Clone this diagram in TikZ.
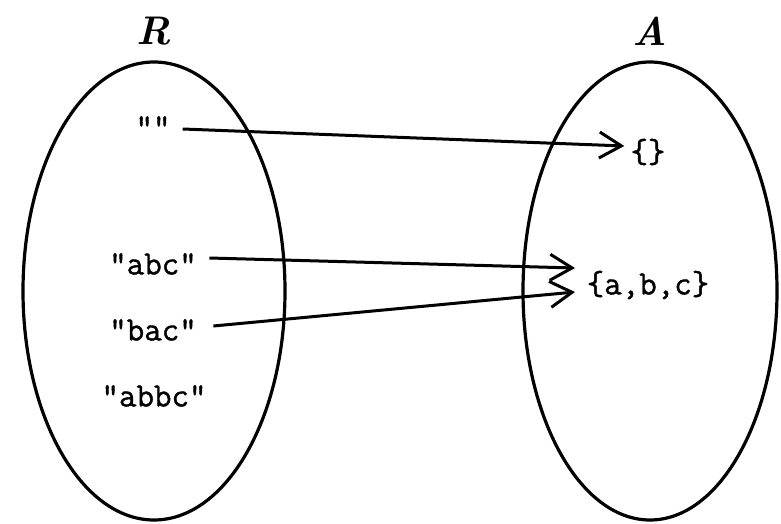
\documentclass[tikz,border=0pt]{standalone}
\usepackage{fontspec}
\newfontfamily\tyfont[FakeBold=1.2]{Latin Modern Mono}
\usetikzlibrary{arrows.meta}
\begin{document}
\begin{tikzpicture}[x=1pt,y=-1pt,
  elem/.style={font=\tyfont\fontsize{34}{38}\selectfont,inner sep=4pt},
  setname/.style={font=\bfseries\itshape\fontsize{40}{44}\selectfont},
  setoval/.style={line width=3.2pt},
  maparrow/.style={line width=3pt,-{Straight Barb[length=22pt,width=26pt,line width=3pt]}}]
\useasboundingbox (0,0) rectangle (781,524);
\draw[setoval] (154,291) ellipse [x radius=131, y radius=229];
\draw[setoval] (650,291) ellipse [x radius=127, y radius=229];
\node[setname] (R) at (154,31) {R};
\node[setname] (A) at (650,31) {A};
\node[elem] (e) at (153,127) {""};
\node[elem] (abc) at (153,264) {"abc"};
\node[elem] (bac) at (153,330) {"bac"};
\node[elem] (abbc) at (154,396) {"abbc"};
\node[elem] (empty) at (648,152) {\{\}};
\node[elem] (s) at (648,285) {\{a,b,c\}};
\draw[maparrow] ([xshift=8pt,yshift=-2pt]e.east) -- ([xshift=-2pt,yshift=6pt]empty.west);
\draw[maparrow] ([xshift=8.4pt,yshift=6pt]abc.east) -- ([xshift=-7.5pt,yshift=17pt]s.west);
\draw[maparrow] ([xshift=12.4pt,yshift=4pt]bac.east) -- ([xshift=-7.5pt,yshift=-7pt]s.west);
\end{tikzpicture}
\end{document}
